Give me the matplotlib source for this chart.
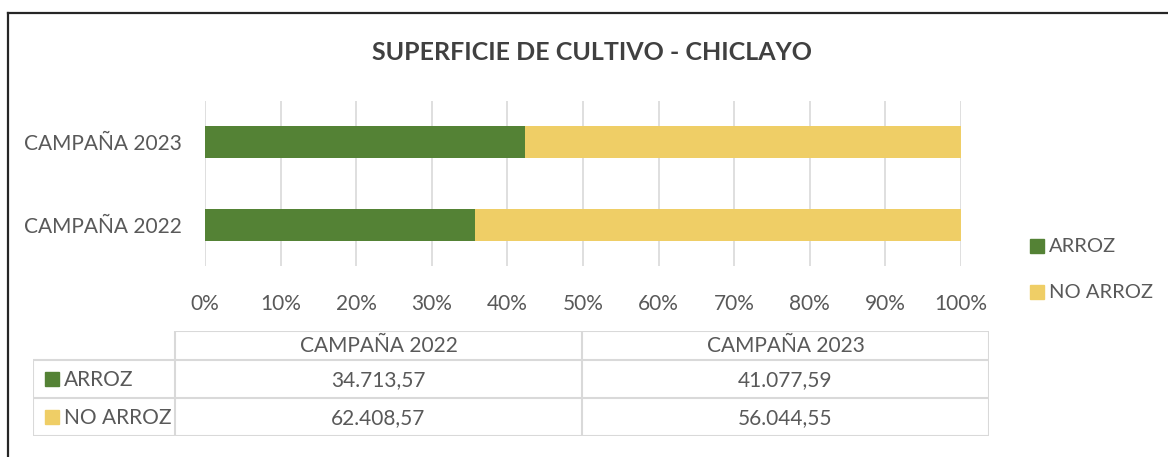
import numpy as np
import matplotlib.pyplot as plt
from matplotlib.patches import Rectangle
from matplotlib.lines import Line2D

plt.rcParams['font.family'] = ['Lato', 'DejaVu Sans']

# data
campaigns = ['CAMPAÑA 2022', 'CAMPAÑA 2023']
series_names = ['ARROZ', 'NO ARROZ']
arroz = [34713.57, 41077.59]
no_arroz = [62408.57, 56044.55]
colors = ['#548235', '#EFCE66']
title = 'SUPERFICIE DE CULTIVO - CHICLAYO'

TEXT = '#595959'
GRID = '#d9d9d9'
W, H = 1168, 457
FS = 15


def fig_box(x0, y0, x1, y1):
    """pixel box (top-left origin) -> figure fraction rect"""
    return [x0 / W, 1 - y1 / H, (x1 - x0) / W, (y1 - y0) / H]


def fmt_es(v):
    s = f'{v:,.2f}'
    return s.replace(',', 'X').replace('.', ',').replace('X', '.')


fig = plt.figure(figsize=(W / 100, H / 100), dpi=100)

# outer frame (top and left visible)
fig.add_artist(Line2D([7.5 / W, 1], [1 - 12.5 / H] * 2, color='#262626', lw=1.6,
                      transform=fig.transFigure))
fig.add_artist(Line2D([7.5 / W] * 2, [0, 1 - 12.5 / H], color='#262626', lw=1.6,
                      transform=fig.transFigure))

fig.text(592 / W, 1 - 53 / H, title, ha='center', va='center', fontsize=18,
         fontweight='bold', color='#404040')

# 100% stacked bars
totals = np.array(arroz) + np.array(no_arroz)
share_a = np.array(arroz) / totals
share_n = np.array(no_arroz) / totals
y = np.arange(len(campaigns))

ax = fig.add_axes(fig_box(205, 101, 961, 266))
ax.barh(y, share_a, height=0.39, color=colors[0], zorder=2)
ax.barh(y, share_n, left=share_a, height=0.39, color=colors[1], zorder=2)
ax.set_xlim(0, 1)
ax.set_ylim(-0.5, 1.5)
ticks = np.linspace(0, 1, 11)
ax.set_xticks(ticks)
ax.set_xticklabels([f'{int(round(t * 100))}%' for t in ticks])
ax.set_yticks(y)
ax.set_yticklabels(campaigns)
for t in ticks:
    ax.axvline(t, color=GRID, lw=1.2, zorder=1)
for s in ax.spines.values():
    s.set_visible(False)
ax.tick_params(length=0, colors=TEXT, labelsize=FS)
ax.tick_params(axis='x', pad=20)
ax.tick_params(axis='y', pad=17)

# legend
for i, name in enumerate(series_names):
    yy = 246 + i * 46
    fig.patches.append(Rectangle((1030 / W, 1 - (yy + 7) / H), 14 / W, 14 / H,
                                 color=colors[i], transform=fig.transFigure))
    fig.text(1049 / W, 1 - yy / H, name, ha='left', va='center', fontsize=14.5,
             color=TEXT)

# data table under the chart
tax = fig.add_axes(fig_box(33, 331, 989, 436))
tax.set_xlim(33, 989)
tax.set_ylim(436, 331)
tax.axis('off')
col_x = [33, 175, 582, 989]
row_y = [331, 360, 398, 436]
lkw = dict(color=GRID, lw=1.5, solid_capstyle='butt')
# header row: no frame on the corner cell
tax.plot([175, 989], [331, 331], **lkw)
for yy in row_y[1:]:
    tax.plot([33, 989], [yy, yy], **lkw)
tax.plot([33, 33], [360, 436], **lkw)
for xx in col_x[1:]:
    tax.plot([xx, xx], [331, 436], **lkw)

for j, c in enumerate(campaigns):
    tax.text((col_x[j + 1] + col_x[j + 2]) / 2, (row_y[0] + row_y[1]) / 2 + 1, c,
             ha='center', va='center', fontsize=FS, color=TEXT)
for i, (name, vals) in enumerate(zip(series_names, [arroz, no_arroz])):
    yc = (row_y[i + 1] + row_y[i + 2]) / 2
    tax.add_patch(Rectangle((45, yc - 7), 14, 14, color=colors[i]))
    tax.text(64, yc + 1, name, ha='left', va='center', fontsize=FS, color=TEXT)
    for j, v in enumerate(vals):
        tax.text((col_x[j + 1] + col_x[j + 2]) / 2, yc + 1, fmt_es(v),
                 ha='center', va='center', fontsize=FS, color=TEXT)

fig.savefig('out.png', dpi=100)
